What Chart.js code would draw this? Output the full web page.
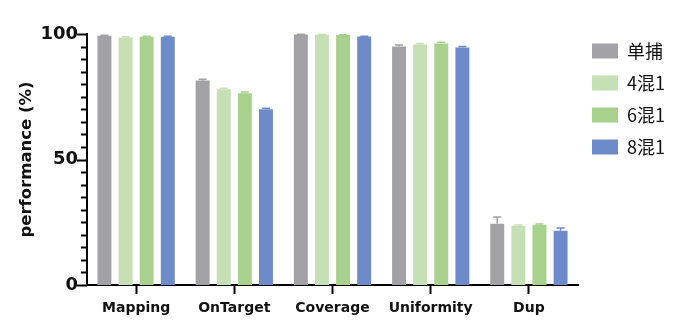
<!DOCTYPE html>
<html>
<head>
<meta charset="utf-8">
<script src="https://cdn.jsdelivr.net/npm/chart.js@4.4.1/dist/chart.umd.min.js"></script>
<style>
  html, body { margin: 0; padding: 0; background: #fff; }
  #wrap { width: 689px; height: 333px; }
</style>
</head>
<body>
<div id="wrap"><canvas id="perfChart" width="689" height="333"></canvas></div>
<script>
const metrics = ["Mapping", "OnTarget", "Coverage", "Uniformity", "Dup"];
const groups = ["单捕", "4混1", "6混1", "8混1"];
const groupColors = ["#A2A1A6", "#C5E0B5", "#A9D18E", "#6E8BC9"];

// mean values per group, same order as metrics
const singleVals = [99.3, 81.5, 99.8, 95.0, 24.4];
const mix4Vals = [98.6, 78.0, 99.7, 95.8, 23.6];
const mix6Vals = [98.9, 76.4, 99.6, 96.2, 24.0];
const mix8Vals = [98.9, 70.0, 99.0, 94.6, 21.6];

// upper error (SD)
const singleErr = [0.2, 0.5, 0.1, 0.6, 2.7];
const mix4Err = [0.3, 0.4, 0.1, 0.4, 0.3];
const mix6Err = [0.2, 0.5, 0.1, 0.5, 0.3];
const mix8Err = [0.2, 0.4, 0.1, 0.4, 1.1];

const yTicks = [0, 50, 100];
const yMinorStep = 5;

const seriesVals = [singleVals, mix4Vals, mix6Vals, mix8Vals];
const seriesErr = [singleErr, mix4Err, mix6Err, mix8Err];

const boldFont = "'DejaVu Sans', Arial, sans-serif";

// draws the upper error whiskers with a small cap
const errorBars = {
  id: "errorBars",
  afterDatasetsDraw(chart) {
    const ctx = chart.ctx;
    const yScale = chart.scales.y;
    chart.data.datasets.forEach((ds, i) => {
      const meta = chart.getDatasetMeta(i);
      meta.data.forEach((bar, j) => {
        const top = yScale.getPixelForValue(ds.data[j] + seriesErr[i][j]);
        ctx.save();
        ctx.strokeStyle = ds.backgroundColor;
        ctx.lineWidth = 1.5;
        ctx.beginPath();
        ctx.moveTo(bar.x, bar.y);
        ctx.lineTo(bar.x, top);
        ctx.moveTo(bar.x - 4, top);
        ctx.lineTo(bar.x + 4, top);
        ctx.stroke();
        ctx.restore();
      });
    });
  },
};

// y axis tick marks: long at labelled values, short every 5
const yAxisTicks = {
  id: "yAxisTicks",
  afterDraw(chart) {
    const ctx = chart.ctx;
    const y = chart.scales.y;
    const x0 = chart.chartArea.left;
    ctx.save();
    ctx.strokeStyle = "#000";
    ctx.lineWidth = 2;
    for (let v = 0; v <= 100; v += yMinorStep) {
      const py = Math.round(y.getPixelForValue(v)) + 0.5;
      const len = yTicks.includes(v) ? 10 : 6;
      ctx.beginPath();
      ctx.moveTo(x0 - len, py);
      ctx.lineTo(x0, py);
      ctx.stroke();
    }
    ctx.restore();
  },
};

// pull the legend block up a little, the plot keeps its top margin
const legendNudge = {
  id: "legendNudge",
  afterLayout(chart) {
    if (chart.legend) {
      chart.legend.top -= 6;
      chart.legend.bottom -= 6;
    }
  },
};

new Chart(document.getElementById("perfChart"), {
  type: "bar",
  data: {
    labels: metrics,
    datasets: groups.map((g, i) => ({
      label: g,
      data: seriesVals[i],
      backgroundColor: groupColors[i],
      borderWidth: 0,
      categoryPercentage: 0.86,
      barPercentage: 0.66,
    })),
  },
  options: {
    responsive: false,
    animation: false,
    layout: { padding: { top: 34, left: 0, right: 14, bottom: 0 } },
    plugins: {
      tooltip: { enabled: false },
      legend: {
        position: "right",
        align: "start",
        labels: {
          boxWidth: 26,
          boxHeight: 15,
          padding: 14,
          color: "#111",
          font: { family: "'Noto Sans CJK SC', sans-serif", size: 18 },
        },
      },
    },
    scales: {
      x: {
        grid: {
          display: true,
          drawOnChartArea: false,
          offset: false,
          tickLength: 9,
          tickWidth: 2,
          tickColor: "#000",
        },
        border: { display: true, color: "#000", width: 2 },
        ticks: {
          color: "#111",
          padding: 6,
          font: { family: boldFont, size: 14, weight: "bold" },
        },
        afterFit: (s) => { s.height = 48; },
      },
      y: {
        min: 0,
        max: 100,
        afterBuildTicks: (s) => { s.ticks = yTicks.map((v) => ({ value: v })); },
        grid: { display: false, drawTicks: false },
        border: { display: true, color: "#000", width: 2 },
        ticks: {
          color: "#111",
          padding: 9,
          font: { family: boldFont, size: 18, weight: "bold" },
        },
        title: {
          display: true,
          text: "performance (%)",
          color: "#111",
          padding: { top: 17, bottom: 0 },
          font: { family: boldFont, size: 16.5, weight: "bold" },
        },
        afterFit: (s) => { s.width = 87; },
      },
    },
  },
  plugins: [errorBars, yAxisTicks, legendNudge],
});
</script>
</body>
</html>
